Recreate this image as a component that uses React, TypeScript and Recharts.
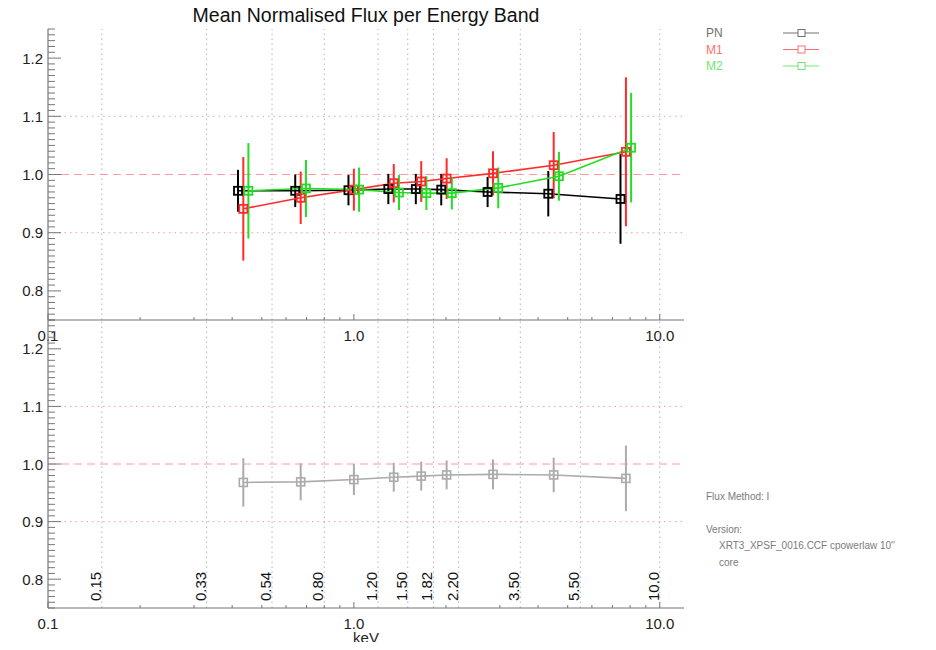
import { LineChart, Line, XAxis, YAxis, ErrorBar, ReferenceLine, Legend } from "recharts"

// energy band edges, keV
const bandEdges = [0.15, 0.33, 0.54, 0.8, 1.2, 1.5, 1.82, 2.2, 3.5, 5.5, 10.0]
const bandLabels = ["0.15", "0.33", "0.54", "0.80", "1.20", "1.50", "1.82", "2.20", "3.50", "5.50", "10.0"]

// band centres per camera (PN and M2 nudged sideways so the bars stay readable)
const pnEnergy = [0.418, 0.643, 0.96, 1.296, 1.594, 1.93, 2.736, 4.32, 7.44]
const m1Energy = [0.435, 0.67, 1.0, 1.35, 1.66, 2.01, 2.85, 4.5, 7.75]
const m2Energy = [0.452, 0.697, 1.04, 1.404, 1.726, 2.09, 2.964, 4.68, 8.06]
const allEnergy = [0.435, 0.67, 1.0, 1.35, 1.66, 2.01, 2.85, 4.5, 7.75]

const pnFlux = [0.972, 0.972, 0.973, 0.975, 0.975, 0.974, 0.97, 0.967, 0.958]
const pnErr = [0.036, 0.028, 0.026, 0.026, 0.026, 0.027, 0.026, 0.039, 0.077]
const m1Flux = [0.941, 0.96, 0.974, 0.985, 0.988, 0.993, 1.002, 1.016, 1.039]
const m1Err = [0.089, 0.045, 0.036, 0.033, 0.035, 0.035, 0.038, 0.057, 0.128]
const m2Flux = [0.972, 0.976, 0.974, 0.969, 0.968, 0.968, 0.977, 0.997, 1.046]
const m2Err = [0.082, 0.049, 0.038, 0.03, 0.029, 0.028, 0.035, 0.042, 0.094]
const allFlux = [0.968, 0.969, 0.973, 0.977, 0.979, 0.981, 0.982, 0.981, 0.975]
const allErr = [0.042, 0.032, 0.027, 0.025, 0.025, 0.025, 0.026, 0.03, 0.057]

const xTicks = [0.1, 0.2, 0.3, 0.4, 0.5, 0.6, 0.7, 0.8, 0.9, 1, 2, 3, 4, 5, 6, 7, 8, 9, 10]
const yTicks = Array.from({ length: 51 }, (_, i) => Math.round(75 + i) / 100)

const FONT = "'Liberation Sans', Arial, sans-serif"
const FRAME = "#777"
const PINK = "#ff9a9a"
const GRID = "#b5b5b5"

const rows = (e: number[], f: number[], err: number[]) => e.map((x, i) => ({ x, y: f[i], err: err[i] }))

const series = [
  { name: "PN", color: "#000000", text: "#707070", data: rows(pnEnergy, pnFlux, pnErr) },
  { name: "M1", color: "#ff2a2a", text: "#ff6e6e", data: rows(m1Energy, m1Flux, m1Err) },
  { name: "M2", color: "#22dd22", text: "#6ee86e", data: rows(m2Energy, m2Flux, m2Err) },
]
const combined = rows(allEnergy, allFlux, allErr)

const square = (color: string, size: number, sw: number) => (p: any) => {
  if (p.cx == null || p.cy == null) return <g key={p.index} />
  return (
    <rect key={p.index} x={p.cx - size / 2} y={p.cy - size / 2} width={size} height={size}
      fill="none" stroke={color} strokeWidth={sw} />
  )
}

const isMajorX = (v: number) => v === 0.1 || v === 1 || v === 10
const fmtX = (v: number) => (v === 0.1 ? "0.1" : v.toFixed(1))
const isMajorY = (v: number) => Math.round(v * 100) % 10 === 0

const bottomTick = (p: any) => {
  const v = p.payload.value
  const major = isMajorX(v)
  return (
    <g>
      <line x1={p.x} x2={p.x} y1={p.y} y2={p.y - (major ? 6 : 3)} stroke={FRAME} />
      {major && (
        <text x={p.x} y={p.y + 15} textAnchor="middle" dominantBaseline="central"
          fontSize={15} fontFamily={FONT} fill="#222">{fmtX(v)}</text>
      )}
    </g>
  )
}

const topTick = (p: any) => {
  const major = isMajorX(p.payload.value)
  return <line x1={p.x} x2={p.x} y1={p.y} y2={p.y + (major ? 6 : 3)} stroke={FRAME} />
}

const leftTick = (p: any) => {
  const v = p.payload.value
  const major = isMajorY(v)
  return (
    <g>
      <line x1={p.x} x2={p.x + (major ? 13 : 7)} y1={p.y} y2={p.y} stroke={FRAME} />
      {major && (
        <text x={p.x - 5} y={p.y} textAnchor="end" dominantBaseline="central"
          fontSize={15} fontFamily={FONT} fill="#222">{v.toFixed(1)}</text>
      )}
    </g>
  )
}

const rightTick = (p: any) => {
  const major = isMajorY(p.payload.value)
  return <line x1={p.x} x2={p.x - (major ? 13 : 7)} y1={p.y} y2={p.y} stroke={FRAME} />
}

const bandLabel = (text: string) => (p: any) => {
  const vb = p.viewBox
  const bottom = Math.max(vb.y, vb.y + vb.height)
  const x = vb.x - 1
  const y = bottom - 7
  return (
    <text x={x} y={y} transform={`rotate(-90 ${x} ${y})`} textAnchor="start"
      fontSize={15} fontFamily={FONT} fill="#111">{text}</text>
  )
}

const legendContent = () => (
  <svg width={140} height={60}>
    {series.map((s, i) => (
      <g key={s.name}>
        <text x={6} y={9 + i * 16.5} dominantBaseline="central" fontSize={12}
          fontFamily={FONT} fill={s.text}>{s.name}</text>
        <line x1={83} x2={119} y1={9 + i * 16.5} y2={9 + i * 16.5} stroke={s.text} strokeWidth={1} />
        <rect x={98} y={5.5 + i * 16.5} width={7} height={7} fill="#fff" stroke={s.text} strokeWidth={1} />
      </g>
    ))}
  </svg>
)

function panelAxes(bottomHeight: number) {
  const axisLine = { stroke: FRAME, strokeWidth: 1.2 }
  return [
    <XAxis key="xb" dataKey="x" type="number" scale="log" domain={[0.1, 12]} allowDataOverflow
      ticks={xTicks} interval={0} tickSize={0} tickMargin={0} tickLine={false} height={bottomHeight}
      axisLine={axisLine} tick={bottomTick} />,
    <XAxis key="xt" xAxisId="t" orientation="top" dataKey="x" type="number" scale="log" domain={[0.1, 12]}
      allowDataOverflow ticks={xTicks} interval={0} tickSize={0} tickMargin={0} tickLine={false} height={0}
      axisLine={axisLine} tick={topTick} />,
    <YAxis key="yl" type="number" domain={[0.75, 1.25]} allowDataOverflow ticks={yTicks} interval={0}
      tickSize={0} tickMargin={0} tickLine={false} width={48} axisLine={axisLine} tick={leftTick} />,
    <YAxis key="yr" yAxisId="r" orientation="right" type="number" domain={[0.75, 1.25]} allowDataOverflow
      ticks={yTicks} interval={0} tickSize={0} tickMargin={0} tickLine={false} width={0}
      axisLine={axisLine} tick={rightTick} />,
  ]
}

function guides(withLabels: boolean) {
  return [
    ...bandEdges.map((e, i) => (
      <ReferenceLine key={`g${i}`} x={e} stroke={GRID} strokeDasharray="1.5 3.5"
        label={withLabels ? bandLabel(bandLabels[i]) : undefined} />
    )),
    <ReferenceLine key="h09" y={0.9} stroke={PINK} strokeDasharray="1.5 4" />,
    <ReferenceLine key="h11" y={1.1} stroke={PINK} strokeDasharray="1.5 4" />,
    <ReferenceLine key="h10" y={1.0} stroke={PINK} strokeDasharray="8 5" />,
  ]
}

export default function App() {
  return (
    <div style={{ position: "relative", width: 936, height: 650, margin: -8, background: "#fff", fontFamily: FONT }}>
      <div style={{ position: "absolute", left: 0, top: 4, width: 732, textAlign: "center", fontSize: 19.5, color: "#111" }}>
        Mean Normalised Flux per Energy Band
      </div>

      <div style={{ position: "absolute", left: 0, top: 0 }}>
        <LineChart width={936} height={350} margin={{ top: 29, right: 252, bottom: 0, left: 0 }}>
          {panelAxes(30)}
          {guides(false)}
          {series.map((s) => (
            <Line key={s.name} data={s.data} dataKey="y" name={s.name} stroke={s.color} strokeWidth={1.6}
              isAnimationActive={false} dot={square(s.color, 8, 1.8)} activeDot={false}>
              <ErrorBar dataKey="err" direction="y" width={0} stroke={s.color} strokeWidth={2} />
            </Line>
          ))}
          <Legend layout="vertical" align="center" verticalAlign="middle" content={legendContent}
            wrapperStyle={{ position: "absolute", left: 700, top: 24, width: 140 }} />
        </LineChart>
      </div>

      <div style={{ position: "absolute", left: 0, top: 300 }}>
        <LineChart width={936} height={350} margin={{ top: 20, right: 252, bottom: 0, left: 0 }}>
          {panelAxes(42)}
          {guides(true)}
          <Line data={combined} dataKey="y" name="All" stroke="#ababab" strokeWidth={1.6}
            isAnimationActive={false} dot={square("#ababab", 8, 1.6)} activeDot={false}>
            <ErrorBar dataKey="err" direction="y" width={0} stroke="#ababab" strokeWidth={2} />
          </Line>
        </LineChart>
      </div>

      <div style={{ position: "absolute", left: 316, top: 629, width: 100, textAlign: "center", fontSize: 15, lineHeight: "17px", color: "#222" }}>
        keV
      </div>

      <div style={{ position: "absolute", left: 706, top: 489, fontSize: 10, color: "#7a7a7a", lineHeight: "16.5px" }}>
        <div>Flux Method: I</div>
        <div style={{ height: 16 }} />
        <div>Version:</div>
        <div style={{ paddingLeft: 13 }}>XRT3_XPSF_0016.CCF cpowerlaw 10''</div>
        <div style={{ paddingLeft: 13 }}>core</div>
      </div>
    </div>
  )
}
